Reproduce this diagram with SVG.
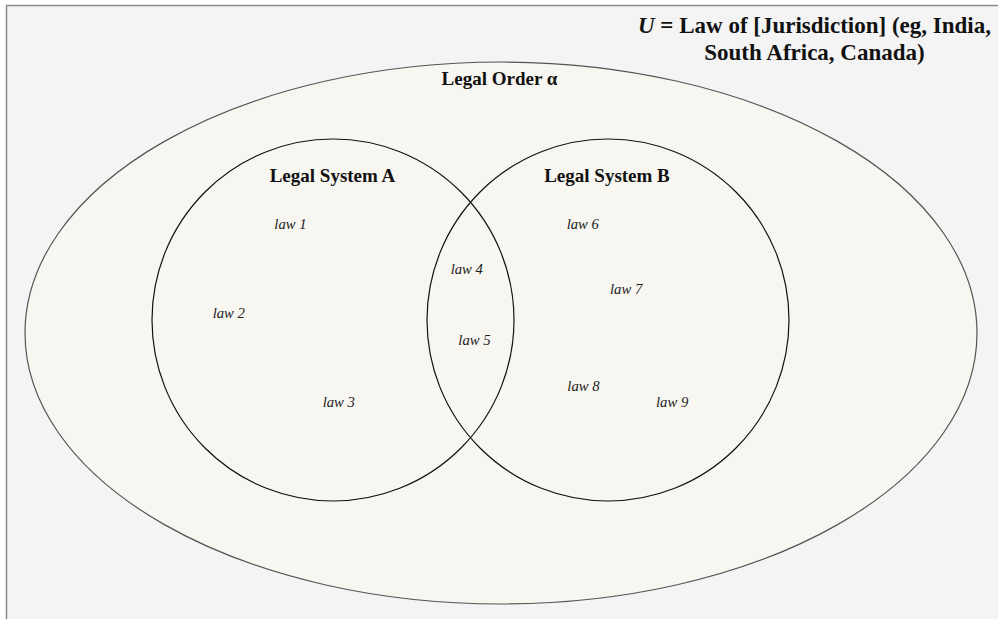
<svg xmlns="http://www.w3.org/2000/svg" width="998" height="619" viewBox="0 0 998 619">
<style>
.bold{font-family:"Liberation Serif","Times New Roman",serif;font-weight:bold;fill:#111}
.law{font-family:"Liberation Serif","Times New Roman",serif;font-style:italic;font-size:14.7px;fill:#222}
.set{fill:none;stroke:#111;stroke-width:1.2}
</style>
<rect x="0" y="0" width="998" height="619" fill="#ffffff"/>
<rect id="frame" x="6.5" y="5.5" width="1000" height="700" fill="#f4f4f4" stroke="#8a8a8a" stroke-width="1.5"/>
<g id="universe">
<text class="bold" font-size="23" text-anchor="middle" x="814.5" y="33"><tspan font-style="italic">U</tspan> = Law of [Jurisdiction] (eg, India,</text>
<text class="bold" font-size="23" text-anchor="middle" x="814.5" y="59.5">South Africa, Canada)</text>
</g>
<g id="legal-order">
<ellipse cx="501" cy="333" rx="476" ry="271" fill="#f8f6f0" stroke="#555" stroke-width="1.2"/>
<text class="bold" font-size="19" text-anchor="middle" x="499.5" y="85">Legal Order α</text>
</g>
<g id="system-a">
<circle class="set" cx="333" cy="320" r="181"/>
<text class="bold" font-size="19" text-anchor="middle" x="332.5" y="182">Legal System A</text>
</g>
<g id="system-b">
<circle class="set" cx="608" cy="320" r="181"/>
<text class="bold" font-size="19" text-anchor="middle" x="607" y="182">Legal System B</text>
</g>
<g id="laws">
<text class="law" x="274.3" y="229">law 1</text>
<text class="law" x="212.7" y="318">law 2</text>
<text class="law" x="322.7" y="407">law 3</text>
<text class="law" x="450.7" y="274">law 4</text>
<text class="law" x="458.3" y="345">law 5</text>
<text class="law" x="566.7" y="228.5">law 6</text>
<text class="law" x="610" y="294">law 7</text>
<text class="law" x="567.3" y="391">law 8</text>
<text class="law" x="656" y="407">law 9</text>
</g>
<g id="connectors"/>
</svg>
